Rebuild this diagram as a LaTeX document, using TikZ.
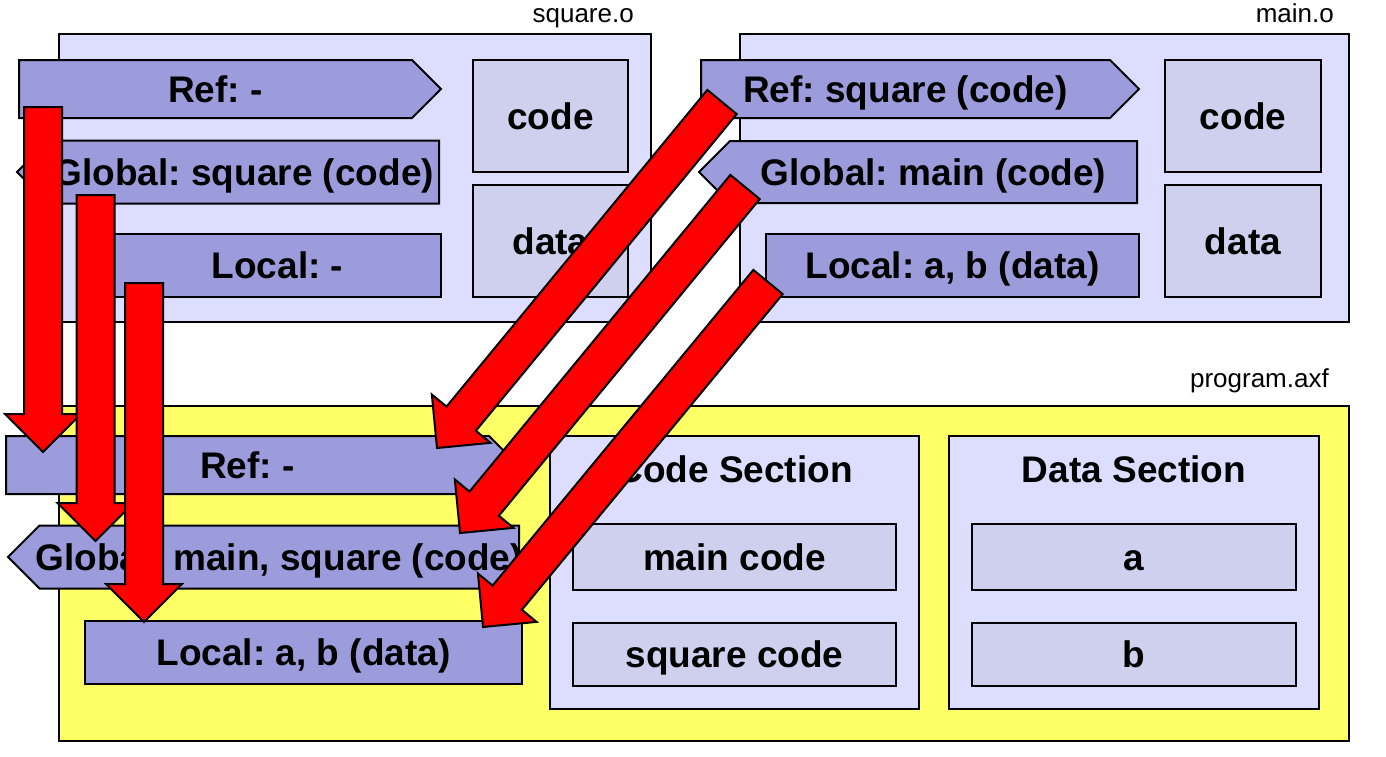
\documentclass[tikz,border=0pt]{standalone}
\usepackage{fontspec}
\setmainfont{Liberation Sans}
\usetikzlibrary{calc,shapes.symbols}
\frenchspacing

\definecolor{objfill}{RGB}{221,221,255}
\definecolor{tagfill}{RGB}{156,156,220}
\definecolor{secfill}{RGB}{207,207,238}
\definecolor{axffill}{RGB}{255,255,102}

\tikzset{
  objbox/.style={draw, line width=2pt, fill=objfill, anchor=north west, inner sep=0pt},
  axfbox/.style={objbox, fill=axffill},
  bold36/.style={font=\bfseries\fontsize{37}{41}\selectfont, text height=26pt, text depth=0pt},
  part/.style={draw, line width=2pt, fill=secfill, anchor=north west, inner sep=0pt, bold36},
  tag/.style={draw, line width=2pt, fill=tagfill, inner sep=0pt, bold36},
  tagR/.style={tag, signal, signal to=east, signal pointer angle=90, anchor=west},
  tagL/.style={tag, signal, signal to=west, signal pointer angle=90, anchor=east},
  tagbox/.style={tag, anchor=north west},
  objname/.style={anchor=base east, inner sep=0pt, font=\fontsize{26}{30}\selectfont},
  hdr/.style={inner sep=0pt, bold36},
  redarr/.style={draw, line width=2pt, fill=red},
}

% fat block arrow from #1 to #2
\newcommand\fatarrow[2]{%
  \path[redarr] let \p1=($(#2)-(#1)$), \n1={atan2(\y1,\x1)}, \n2={veclen(\x1,\y1)} in
    [shift={(#1)}, rotate=\n1]
    (0pt,-19pt) -- (\n2-38pt,-19pt) -- (\n2-38pt,-38pt) -- (\n2,0pt)
    -- (\n2-38pt,38pt) -- (\n2-38pt,19pt) -- (0pt,19pt) -- cycle;}

\begin{document}
\begin{tikzpicture}[x=1pt, y=-1pt]
  \useasboundingbox (0,0) rectangle (1386,756);

  % object files
  \node[objbox, minimum width=592, minimum height=288] (sqo) at (58,33) {};
  \node[objbox, minimum width=609, minimum height=288] (mno) at (739,33) {};
  \node[axfbox, minimum width=1290, minimum height=335] (prog) at (58,405) {};

  \node[objname] (sqoname) at ([xshift=-18pt, yshift=11pt]sqo.north east) {square.o};
  \node[objname] (mnoname) at ([xshift=-16pt, yshift=11pt]mno.north east) {main.o};
  \node[objname] (progname) at ([xshift=-21pt, yshift=18pt]prog.north east) {program.axf};

  % square.o
  \node[tagR, minimum width=422, minimum height=58] (sref) at (18,89) {Ref: -};
  \node[tagL, minimum width=422, minimum height=63] (sglob) at (440,172) {Global: square (code)};
  \node[tagbox, minimum width=327, minimum height=63] (sloc) at (113,233) {Local: -};
  \node[part, minimum width=155, minimum height=112] (scode) at (472,59) {code};
  \node[part, minimum width=155, minimum height=112] (sdata) at (472,184) {data};

  % main.o
  \node[tagR, minimum width=438, minimum height=58] (mref) at (700,89) {Ref: square (code)};
  \node[tagL, minimum width=438, minimum height=62] (mglob) at (1138,172) {Global: main (code)};
  \node[tagbox, minimum width=373, minimum height=63] (mloc) at (765,233) {Local: a, b (data)};
  \node[part, minimum width=156, minimum height=112] (mcode) at (1164,59) {code};
  \node[part, minimum width=156, minimum height=112] (mdata) at (1164,184) {data};

  % program.axf
  \node[tagR, minimum width=512, minimum height=58] (pref) at (5,465) {Ref: -};
  \node[tagL, minimum width=511, minimum height=63, inner xsep=-6pt] (pglob) at (520,557) {Global: main, square (code)};
  \node[tagbox, minimum width=437, minimum height=63] (ploc) at (84,620) {Local: a, b (data)};

  \node[objbox, minimum width=369, minimum height=273] (csec) at (549,435) {};
  \node[hdr] (csechdr) at ([yshift=-34pt]csec.north) {Code Section};
  \node[part, minimum width=323, minimum height=66] (maincode) at (572,523) {main code};
  \node[part, minimum width=323, minimum height=63] (sqcode) at (572,622) {square code};

  \node[objbox, minimum width=370, minimum height=273] (dsec) at (948,435) {};
  \node[hdr] (dsechdr) at ([yshift=-34pt]dsec.north) {Data Section};
  \node[part, minimum width=324, minimum height=66] (avar) at (971,523) {a};
  \node[part, minimum width=324, minimum height=63] (bvar) at (971,622) {b};

  % linking arrows
  \coordinate (srefout) at (43,107);    \coordinate (prefin1) at (43,452);
  \coordinate (sglobout) at (95.5,195); \coordinate (pglobin1) at (95.5,541);
  \coordinate (slocout) at (144,283);   \coordinate (plocin1) at (144,622);
  \coordinate (mrefout) at (722,102);   \coordinate (prefin2) at (437,448);
  \coordinate (mglobout) at (745,187);  \coordinate (pglobin2) at (460,533);
  \coordinate (mlocout) at (768,282);   \coordinate (plocin2) at (483,627);

  \fatarrow{srefout}{prefin1}
  \fatarrow{sglobout}{pglobin1}
  \fatarrow{slocout}{plocin1}
  \fatarrow{mrefout}{prefin2}
  \fatarrow{mglobout}{pglobin2}
  \fatarrow{mlocout}{plocin2}
\end{tikzpicture}
\end{document}
